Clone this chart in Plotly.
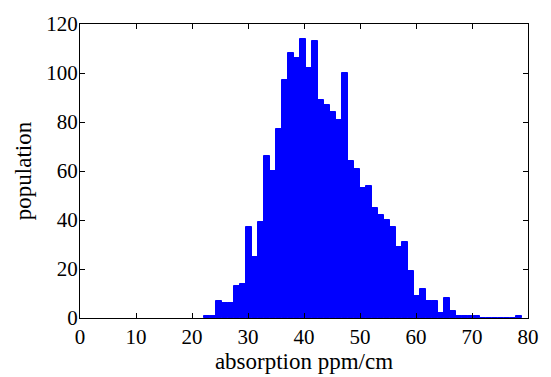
import numpy as np
import plotly.graph_objects as go

# Histogram data
bin_start = 22.21
bin_width = 1.069
counts = [1, 1, 7, 6, 6, 13, 14, 37, 25, 39,
          66, 60, 77, 97, 108, 106, 114, 102, 113, 89,
          87, 84, 81, 100, 64, 61, 53, 54, 45, 42,
          40, 37, 29, 31, 19, 9, 12, 7, 7, 2,
          8, 3, 1, 1, 1, 1, 0, 0, 0, 0,
          0, 0, 1]
x_ticks = [0, 10, 20, 30, 40, 50, 60, 70, 80]
y_ticks = [0, 20, 40, 60, 80, 100, 120]

centers = bin_start + bin_width * (np.arange(len(counts)) + 0.5)

fig = go.Figure()
fig.add_trace(go.Bar(
    x=centers, y=counts, width=bin_width,
    marker=dict(color="#0000ff", line=dict(color="#0000ff", width=1)),
))

font = dict(family="Liberation Serif, Times New Roman, serif", color="black")
axis_common = dict(
    showline=True, linecolor="black", linewidth=1, mirror="ticks",
    ticks="inside", ticklen=5, tickcolor="black", tickwidth=1,
    showgrid=False, zeroline=False,
    tickfont=dict(size=21, **font),
)
fig.update_xaxes(range=[0, 80], tickvals=x_ticks, ticklabelstandoff=0,
                 title=dict(text="absorption ppm/cm", font=dict(size=23, **font), standoff=0),
                 **axis_common)
fig.update_yaxes(range=[0, 120], tickvals=y_ticks, ticklabelstandoff=-3,
                 title=dict(text="population", font=dict(size=23, **font), standoff=8),
                 **axis_common)
fig.update_layout(
    width=551, height=377,
    margin=dict(l=80, r=18, t=14, b=57),
    plot_bgcolor="white", paper_bgcolor="white",
    bargap=0, showlegend=False,
)
fig.write_html("out.html")
